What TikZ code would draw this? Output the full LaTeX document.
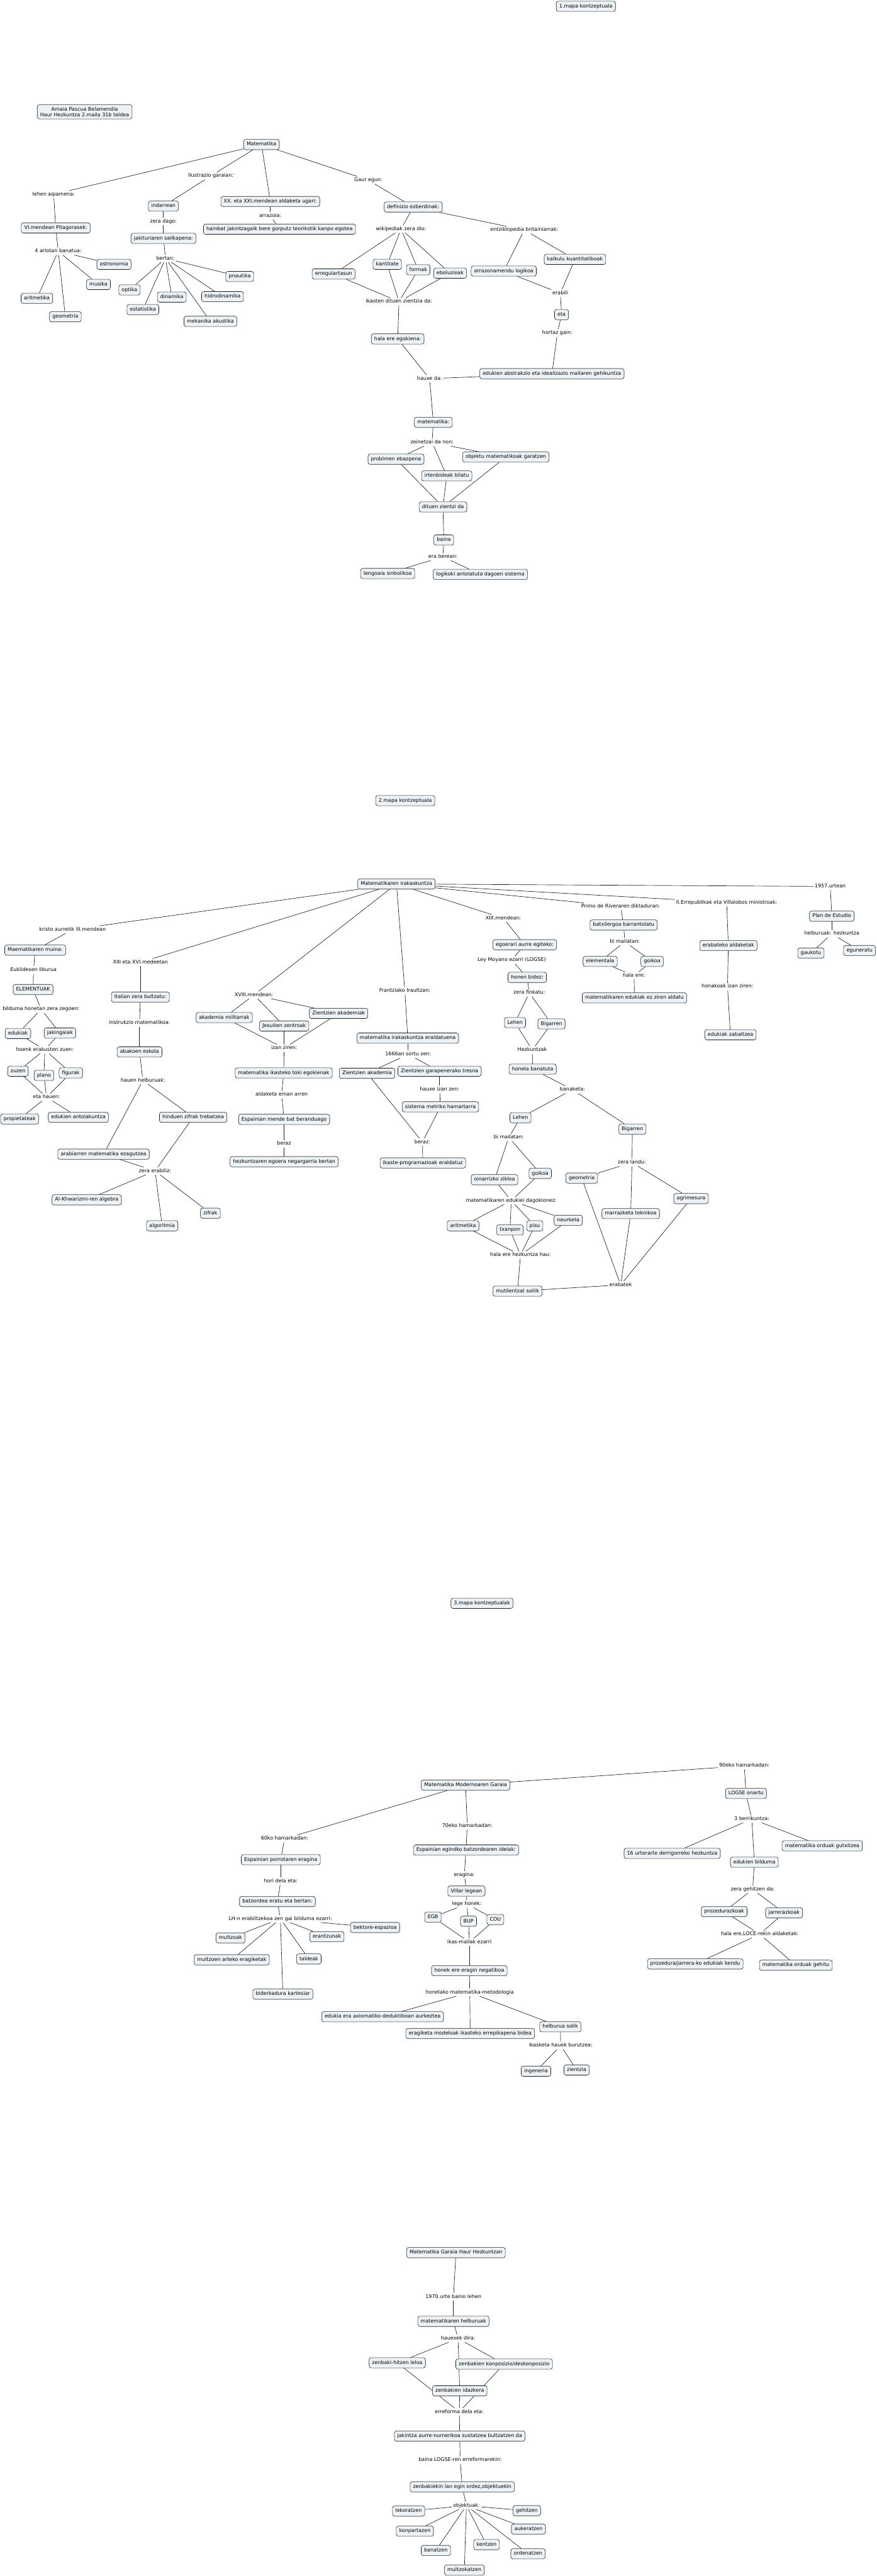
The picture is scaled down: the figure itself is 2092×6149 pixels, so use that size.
\documentclass[tikz,border=0pt]{standalone}
\usepackage{fontspec}
\setmainfont{DejaVu Sans}
\usetikzlibrary{positioning}
\definecolor{KonFill}{RGB}{236,242,245}
\definecolor{KonLine}{RGB}{30,30,30}
\pgfdeclarelayer{bg}
\pgfsetlayers{bg,main}
\tikzset{
  kon/.style={draw=KonLine,fill=KonFill,rounded corners=5pt,line width=0.9pt,
    inner xsep=7pt,inner ysep=6.5pt,text height=9pt,text depth=2.5pt},
  egile/.style={draw=KonLine,fill=KonFill,rounded corners=5pt,line width=0.9pt,
    inner xsep=7pt,inner ysep=5pt,align=center},
  lot/.style={inner xsep=3pt,inner ysep=3pt,text height=9pt,text depth=2.5pt},
  lerro/.style={draw=KonLine,line width=1pt},
}

\begin{document}
\begin{tikzpicture}[x=1pt,y=-1pt,font=\fontsize{12}{14.5}\selectfont]
\useasboundingbox (0,0) rectangle (2092,6149);
% 1. mapa
\node[egile] (egilea) at (202,267) {Amaia Pascua Belamendia\\Haur Hezkuntza 2.maila 31b taldea};
\node[kon] (mapa1) at (1398,15) {1.mapa kontzeptuala};
\node[kon] (mat) at (624,345) {Matematika};
\node[lot] (Llehen) at (128,464) {lehen aipamena:};
\node[lot] (Lilus) at (503,420) {Ilustrazio garaian:};
\node[lot] (Lgaur) at (879,430) {Gaur egun:};
\node[kon] (xx) at (645,481) {XX. eta XXI.mendean aldaketa ugari:};
\node[lot] (Larraz) at (645,515) {arrazoia:};
\node[kon] (hainbat) at (667,547) {hainbat jakintzagaik bere gorputz teorikotik kanpo egotea};
\node[kon] (indar) at (390,492) {indarrean};
\node[lot] (Lzera) at (390,529) {zera dago:};
\node[kon] (jakit) at (390,569) {jakituriaren sailkapena:};
\node[lot] (Lbertan) at (395,617) {bertan:};
\node[kon] (optika) at (309,692) {optika};
\node[kon] (estat) at (341,739) {estatistika};
\node[kon] (dinam) at (410,709) {dinamika};
\node[kon] (mekan) at (502,767) {mekanika akustika};
\node[kon] (hidro) at (531,708) {hidrodinamika};
\node[kon] (pnaut) at (572,660) {pnautika};
\node[kon] (pitag) at (133,544) {VI.mendean Pitagorasek:};
\node[lot] (Larlo) at (139,600) {4 arlotan banatua:};
\node[kon] (astro) at (272,631) {astronomia};
\node[kon] (musika) at (235,679) {musika};
\node[kon] (arit) at (88,712) {aritmetika};
\node[kon] (geom) at (156,756) {geometria};
\node[kon] (defin) at (986,494) {definizio ezberdinak:};
\node[lot] (Lwiki) at (957,547) {wikipediak zera dio:};
\node[lot] (Lentzi) at (1251,549) {entziklopedia britainiarrak:};
\node[kon] (kanti) at (924,631) {kantitate};
\node[kon] (formak) at (998,644) {formak};
\node[kon] (ebol) at (1074,652) {eboluzioak};
\node[kon] (erreg) at (796,654) {erregulartasun};
\node[lot] (Likasten) at (952,720) {ikasten dituen zientzia da:};
\node[kon] (egoki) at (949,809) {hala ere egokiena:};
\node[lot] (Lhauxe) at (1025,904) {hauxe da:};
\node[kon] (abstr) at (1317,892) {edukien abstrakzio eta idealizazio mailaren gehikuntza};
\node[kon] (arrazon) at (1202,647) {arrazonamendu logikoa};
\node[kon] (kalk) at (1372,619) {kalkulu kuantitatiboak};
\node[lot] (Lerabili) at (1337,700) {erabili};
\node[kon] (eta) at (1340,751) {eta};
\node[lot] (Lhortaz) at (1330,795) {hortaz gain:};
\node[kon] (matem) at (1034,1008) {matematika:};
\node[lot] (Lzein) at (1031,1056) {zeinetzai da non:};
\node[kon] (probl) at (945,1096) {problmen ebazpena};
\node[kon] (objek) at (1207,1091) {objektu matematikoak garatzen};
\node[kon] (irten) at (1066,1136) {irtenbideak bilatu};
\node[kon] (dituen) at (1057,1210) {dituen zientzi da};
\node[kon] (baina) at (1059,1289) {baina};
\node[lot] (Lera) at (1057,1329) {era berean:};
\node[kon] (lengo) at (925,1369) {lengoaia sinbolikoa};
\node[kon] (logik) at (1146,1371) {logikoki antolatuta dagoen sistema};
% 2. mapa
\node[kon] (mapa2) at (967,1911) {2.mapa kontzeptuala};
\node[kon] (root2) at (946,2110) {Matematikaren irakaskuntza};
\node[lot] (Lkristo) at (173,2219) {kristo aurretik III.mendean};
\node[kon] (muina) at (84,2268) {Maematikaren muina:};
\node[lot] (Leukl) at (80,2315) {Euklidesen liburua};
\node[kon] (elem) at (79,2362) {ELEMENTUAK};
\node[lot] (Lbild) at (98,2409) {bilduma honetan zera zegoen:};
\node[kon] (eduk) at (43,2467) {edukiak};
\node[kon] (jaking) at (143,2466) {jakingaiak};
\node[lot] (Lhoenk) at (107,2506) {hoenk erakusten zuen:};
\node[kon] (zuzen) at (43,2557) {zuzen};
\node[kon] (plano) at (105,2567) {plano};
\node[kon] (figurak) at (169,2561) {figurak};
\node[lot] (Letahauen) at (111,2619) {eta hauen:};
\node[kon] (propiet) at (47,2671) {propietateak};
\node[kon] (edantol) at (187,2667) {edukien antolakuntza};
\node[lot] (Lxiii) at (335,2297) {XIII eta XVI.medeetan};
\node[kon] (italia) at (335,2380) {Italian zera bultzatu:};
\node[lot] (Linstr) at (333,2442) {instrukzio matematikoa:};
\node[kon] (abako) at (333,2511) {abakoen eskola};
\node[lot] (Lhelb) at (341,2579) {hauen helburuak:};
\node[kon] (hindu) at (461,2667) {hinduen zifrak trebatzea};
\node[kon] (arabi) at (247,2755) {arabiarren matematika ezagutzea};
\node[lot] (Lerabiliz) at (370,2795) {zera erabiliz:};
\node[kon] (alkhw) at (207,2864) {Al-Khwarizmi-ren algebra};
\node[kon] (algor) at (387,2926) {algoritmia};
\node[kon] (zifrak) at (502,2896) {zifrak};
\node[lot] (Lxviii) at (606,2375) {XVIII.mendean:};
\node[kon] (akmil) at (535,2429) {akademia militarrak};
\node[kon] (jesu) at (678,2449) {Jesuiten zentroak};
\node[kon] (zakad) at (808,2419) {Zientzien akademiak};
\node[lot] (Lizan) at (678,2502) {izan ziren:};
\node[kon] (tokieg) at (677,2561) {matematika ikasteko toki egokienak};
\node[lot] (Laldak) at (672,2613) {aldaketa eman arren};
\node[kon] (espmende) at (678,2672) {Espainian mende bat beranduago};
\node[lot] (Lberaz) at (678,2730) {beraz};
\node[kon] (negar) at (678,2773) {hezkuntzaren egoera negargarria bertan};
\node[lot] (Lfrantz) at (966,2365) {Frantziako Iraultzan:};
\node[kon] (eraldat) at (973,2478) {matematika irakaskuntza eraldatuena};
\node[lot] (Lurte) at (974,2517) {1666an sortu zen:};
\node[kon] (zakad2) at (876,2562) {Zientzien akademia};
\node[kon] (garap) at (1049,2557) {Zientzien garapenerako tresna};
\node[lot] (Lhauxezen) at (1049,2600) {hauxe izan zen:};
\node[kon] (metriko) at (1051,2642) {sistema metriko hamartarra};
\node[lot] (Lberazb) at (1008,2726) {beraz:};
\node[kon] (ikaste) at (1009,2776) {ikaste-programazioak eraldatuz};
\node[lot] (Lxix) at (1201,2192) {XIX.mendean:};
\node[kon] (egoer) at (1252,2255) {egoerari aurre egiteko:};
\node[lot] (Lmoyano) at (1221,2292) {Ley Moyano ezarri (LOGSE)};
\node[kon] (honen) at (1258,2333) {honen bidez:};
\node[lot] (Lfinkatu) at (1263,2370) {zera finkatu:};
\node[kon] (lehena) at (1229,2441) {Lehen};
\node[kon] (bigarrena) at (1316,2444) {Bigarren};
\node[lot] (Lhezk) at (1270,2506) {Hezkuntzak};
\node[kon] (banatuta) at (1271,2552) {honela banatuta};
\node[lot] (Lbanak) at (1366,2601) {banaketa:};
\node[kon] (lehenb) at (1242,2668) {Lehen};
\node[kon] (bigarrenb) at (1509,2695) {Bigarren};
\node[lot] (Lbimail) at (1214,2715) {bi mailatan:};
\node[kon] (oinarr) at (1180,2816) {oinarrizko zikloa};
\node[kon] (goikoa) at (1289,2801) {goikoa};
\node[lot] (Ledukiei) at (1220,2866) {matematikaren edukiei dagokionez:};
\node[kon] (arit2) at (1105,2926) {aritmetika};
\node[kon] (txanpon) at (1217,2936) {txanpon};
\node[kon] (pisu) at (1276,2926) {pisu};
\node[kon] (neurk) at (1356,2913) {neurketa};
\node[lot] (Lhalahezk) at (1242,2996) {hala ere hezkuntza hau:};
\node[kon] (mutil) at (1235,3082) {mutilentzat soilik};
\node[lot] (Llandu) at (1508,2775) {zera landu:};
\node[kon] (geom2) at (1388,2812) {geometria};
\node[kon] (marraz) at (1505,2897) {marrazketa teknikoa};
\node[kon] (agrim) at (1649,2861) {agrimesura};
\node[lot] (Lerabatek) at (1481,3067) {erabatek};
\node[lot] (Lprimo) at (1481,2164) {Primo de Riveraren diktaduran:};
\node[kon] (batxi) at (1488,2208) {batxilergoa barrantolatu};
\node[lot] (Lbimail2) at (1491,2248) {bi mailatan:};
\node[kon] (elemen) at (1432,2295) {elementala};
\node[kon] (goikoa2) at (1556,2295) {goikoa};
\node[lot] (Lhalaere) at (1513,2329) {hala ere:};
\node[kon] (ezald) at (1514,2382) {matematikaren edukiak ez ziren aldatu};
\node[lot] (Lerrep) at (1734,2154) {II.Errepublikak eta Villalobos ministroak:};
\node[kon] (erabat) at (1738,2257) {erabateko aldaketak};
\node[lot] (Lhonak) at (1736,2355) {honakoak izan ziren:};
\node[kon] (zabal) at (1743,2470) {edukiak zabaltzea};
\node[lot] (L1957) at (1981,2116) {1957.urtean};
\node[kon] (plan) at (1985,2187) {Plan de Estudio};
\node[lot] (Lhezk2) at (1985,2229) {helburuak: hezkuntza};
\node[kon] (gauk) at (1935,2275) {gaukotu};
\node[kon] (egun) at (2051,2269) {eguneratu};
% 3. mapa
\node[kon] (mapa3) at (1150,3827) {3.mapa kontzeptualak};
\node[kon] (modern) at (1111,4261) {Matematika Modernoaren Garaia};
\node[lot] (L60) at (679,4389) {60ko hamarkadan:};
\node[kon] (porrot) at (670,4439) {Espainian porrotaren eragina};
\node[lot] (Lhorid) at (670,4490) {hori dela eta:};
\node[kon] (batzor) at (662,4539) {batzordea eratu eta bertan:};
\node[lot] (Llhn) at (669,4580) {LH-n erabiltzekoa zen gai bilduma ezarri:};
\node[kon] (bektore) at (895,4601) {bektore-espazioa};
\node[kon] (multzoak) at (550,4626) {multzoak};
\node[kon] (erantz) at (780,4623) {erantzunak};
\node[kon] (multzoen) at (553,4678) {multzoen arteko eragiketak};
\node[kon] (taldeak) at (737,4676) {taldeak};
\node[kon] (biderk) at (675,4760) {biderkadura kartesiar};
\node[lot] (L70) at (1115,4359) {70eko hamarkadan:};
\node[kon] (ideiak) at (1112,4416) {Espainian egindko batzordearen ideiak:};
\node[lot] (Leragina) at (1108,4475) {eragina:};
\node[kon] (villar) at (1113,4514) {Villar legean};
\node[lot] (Llege) at (1114,4545) {lege honek:};
\node[kon] (egb) at (1033,4576) {EGB};
\node[kon] (bup) at (1118,4586) {BUP};
\node[kon] (cou) at (1182,4582) {COU};
\node[lot] (Likasm) at (1120,4636) {ikas-mailak ezarri};
\node[kon] (negat) at (1120,4704) {honek ere eragin negatiboa};
\node[lot] (Lmetod) at (1121,4756) {honelako matematika-metodologia};
\node[kon] (axiom) at (913,4814) {edukia era axiomatiko-deduktiboan aurkeztea};
\node[kon] (errepik) at (1122,4854) {eragiketa modeloak ikasteko errepikapena bidea};
\node[kon] (helbsol) at (1337,4838) {helburua solik};
\node[lot] (Lburutz) at (1338,4883) {ikasketa hauek burutzea:};
\node[kon] (ingen) at (1279,4944) {ingeneria};
\node[kon] (zientz) at (1376,4941) {zientzia};
\node[lot] (L90) at (1776,4215) {90eko hamarkadan:};
\node[kon] (logse) at (1780,4281) {LOGSE onartu};
\node[lot] (L3berr) at (1794,4342) {3 berrikuntza:};
\node[kon] (urte16) at (1604,4424) {16 urterarte derrigorreko hezkuntza};
\node[kon] (bilduma) at (1800,4445) {edukien bilduma};
\node[kon] (gutxi) at (1962,4406) {matematika orduak gutxitzea};
\node[lot] (Lgehitzen) at (1796,4510) {zera gehitzen da:};
\node[kon] (proz) at (1728,4563) {prozedurazkoak};
\node[kon] (jarr) at (1871,4566) {jarrerazkoak};
\node[lot] (Lloce) at (1813,4617) {hala ere,LOCE-rekin aldaketak:};
\node[kon] (kendu) at (1659,4688) {prozedura/jarrera-ko edukiak kendu};
\node[kon] (gehitu) at (1899,4691) {matematika orduak gehitu};
% 4. mapa
\node[kon] (garaia) at (1088,5377) {Matematika Garaia Haur Hezkuntzan};
\node[lot] (L1970) at (1082,5483) {1970.urte baino lehen};
\node[kon] (helburuak) at (1082,5541) {matematikaren helburuak};
\node[lot] (Lhauexek) at (1093,5582) {hauexek dira:};
\node[kon] (leloa) at (948,5640) {zenbaki-hitzen leloa};
\node[kon] (konpo) at (1203,5643) {zenbakien konposizio/deskonposizio};
\node[kon] (idazk) at (1097,5707) {zenbakien idazkera};
\node[lot] (Lerref) at (1096,5757) {erreforma dela eta:};
\node[kon] (jakintza) at (1097,5815) {jakintza aurre-numerikoa sustatzea bultzatzen da};
\node[lot] (Llogse) at (1098,5872) {baina LOGSE-ren erreformarekin:};
\node[kon] (ordez) at (1103,5936) {zenbakiekin lan egin ordez,objektuekin};
\node[lot] (Lobjekt) at (1113,5981) {objektuak:};
\node[kon] (lekor) at (975,5994) {lekoratzen};
\node[kon] (gehitzen) at (1257,5993) {gehitzen};
\node[kon] (konpart) at (990,6042) {konpartazen};
\node[kon] (aukera) at (1261,6037) {aukeratzen};
\node[kon] (banatzen) at (1040,6088) {banatzen};
\node[kon] (kentzen) at (1161,6074) {kentzen};
\node[kon] (ordena) at (1260,6096) {ordenatzen};
\node[kon] (multzok) at (1108,6135) {multzokatzen};
% lerroak
\begin{pgfonlayer}{bg}
\foreach \a/\b in {mat/Llehen,Llehen/pitag,pitag/Larlo,Larlo/astro,Larlo/musika,Larlo/arit,Larlo/geom,
  mat/Lilus,Lilus/indar,indar/Lzera,Lzera/jakit,jakit/Lbertan,Lbertan/optika,Lbertan/estat,Lbertan/dinam,
  Lbertan/mekan,Lbertan/hidro,Lbertan/pnaut,mat/xx,xx/Larraz,Larraz/hainbat,
  mat/Lgaur,Lgaur/defin,defin/Lwiki,Lwiki/erreg,Lwiki/kanti,Lwiki/formak,Lwiki/ebol,
  erreg/Likasten,kanti/Likasten,formak/Likasten,ebol/Likasten,Likasten/egoki,egoki/Lhauxe,abstr/Lhauxe,
  Lhauxe/matem,defin/Lentzi,Lentzi/arrazon,Lentzi/kalk,arrazon/Lerabili,kalk/Lerabili,Lerabili/eta,
  eta/Lhortaz,Lhortaz/abstr,matem/Lzein,Lzein/probl,Lzein/irten,Lzein/objek,probl/dituen,irten/dituen,
  objek/dituen,dituen/baina,baina/Lera,Lera/lengo,Lera/logik}
  \draw[lerro] (\a) -- (\b);
\foreach \a/\b in {root2/Lkristo,Lkristo/muina,muina/Leukl,Leukl/elem,elem/Lbild,Lbild/eduk,Lbild/jaking,
  eduk/Lhoenk,jaking/Lhoenk,
  Lhoenk/zuzen,Lhoenk/plano,Lhoenk/figurak,zuzen/Letahauen,plano/Letahauen,figurak/Letahauen,
  Letahauen/propiet,Letahauen/edantol,
  root2/Lxiii,Lxiii/italia,italia/Linstr,Linstr/abako,abako/Lhelb,Lhelb/arabi,Lhelb/hindu,
  arabi/Lerabiliz,hindu/Lerabiliz,Lerabiliz/alkhw,Lerabiliz/algor,Lerabiliz/zifrak,
  root2/Lxviii,Lxviii/akmil,Lxviii/jesu,Lxviii/zakad,akmil/Lizan,jesu/Lizan,zakad/Lizan,Lizan/tokieg,
  tokieg/Laldak,Laldak/espmende,espmende/Lberaz,Lberaz/negar,
  root2/Lfrantz,Lfrantz/eraldat,eraldat/Lurte,Lurte/zakad2,Lurte/garap,garap/Lhauxezen,Lhauxezen/metriko,
  zakad2/Lberazb,metriko/Lberazb,Lberazb/ikaste,
  root2/Lxix,Lxix/egoer,
  egoer/Lmoyano,Lmoyano/honen,honen/Lfinkatu,Lfinkatu/lehena,Lfinkatu/bigarrena,lehena/Lhezk,
  bigarrena/Lhezk,Lhezk/banatuta,banatuta/Lbanak,Lbanak/lehenb,Lbanak/bigarrenb,lehenb/Lbimail,
  Lbimail/oinarr,Lbimail/goikoa,oinarr/Ledukiei,goikoa/Ledukiei,Ledukiei/arit2,Ledukiei/txanpon,
  Ledukiei/pisu,Ledukiei/neurk,arit2/Lhalahezk,txanpon/Lhalahezk,pisu/Lhalahezk,neurk/Lhalahezk,
  Lhalahezk/mutil,bigarrenb/Llandu,Llandu/geom2,Llandu/marraz,Llandu/agrim,geom2/Lerabatek,
  marraz/Lerabatek,agrim/Lerabatek,Lerabatek/mutil,
  root2/Lprimo,Lprimo/batxi,batxi/Lbimail2,
  Lbimail2/elemen,Lbimail2/goikoa2,elemen/Lhalaere,goikoa2/Lhalaere,Lhalaere/ezald,
  root2/Lerrep,Lerrep/erabat,erabat/Lhonak,Lhonak/zabal,
  root2/L1957,L1957/plan,plan/Lhezk2,Lhezk2/gauk,Lhezk2/egun}
  \draw[lerro] (\a) -- (\b);
\foreach \a/\b in {modern/L60,L60/porrot,porrot/Lhorid,Lhorid/batzor,batzor/Llhn,Llhn/multzoak,
  Llhn/multzoen,Llhn/biderk,Llhn/taldeak,Llhn/erantz,Llhn/bektore,
  modern/L70,L70/ideiak,ideiak/Leragina,Leragina/villar,villar/Llege,Llege/egb,Llege/bup,Llege/cou,
  egb/Likasm,bup/Likasm,cou/Likasm,Likasm/negat,negat/Lmetod,Lmetod/axiom,Lmetod/errepik,Lmetod/helbsol,
  helbsol/Lburutz,Lburutz/ingen,Lburutz/zientz,
  modern/L90,L90/logse,logse/L3berr,L3berr/urte16,L3berr/bilduma,L3berr/gutxi,bilduma/Lgehitzen,
  Lgehitzen/proz,Lgehitzen/jarr,proz/Lloce,jarr/Lloce,Lloce/kendu,Lloce/gehitu,
  garaia/L1970,L1970/helburuak,helburuak/Lhauexek,Lhauexek/leloa,Lhauexek/idazk,Lhauexek/konpo,
  leloa/Lerref,idazk/Lerref,konpo/Lerref,Lerref/jakintza,jakintza/Llogse,Llogse/ordez,ordez/Lobjekt,
  Lobjekt/lekor,Lobjekt/gehitzen,Lobjekt/konpart,Lobjekt/aukera,Lobjekt/banatzen,Lobjekt/kentzen,
  Lobjekt/ordena,Lobjekt/multzok}
  \draw[lerro] (\a) -- (\b);
\end{pgfonlayer}
\end{tikzpicture}
\end{document}
